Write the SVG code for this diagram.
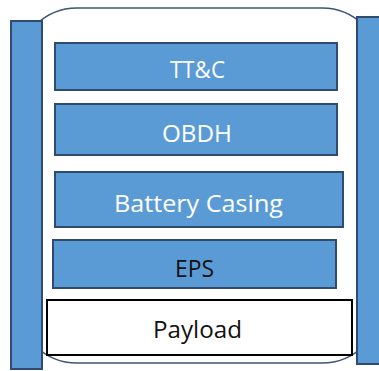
<svg xmlns="http://www.w3.org/2000/svg" width="379" height="371" viewBox="0 0 379 371">
<style>
.blk{fill:#5b9bd5;stroke:#2f4c6e;stroke-width:2}
.lbl{font-family:"Open Sans","Liberation Sans",sans-serif;font-size:23px;text-anchor:middle}
.w{fill:#ffffff}
.k{fill:#111111}
</style>
<rect width="379" height="371" fill="#ffffff"/>
<g id="casing">
<rect x="18" y="8" width="363" height="355" rx="59" ry="59" fill="#ffffff" stroke="#3b5574" stroke-width="1.5"/>
</g>
<g id="left-panel"><rect class="blk" x="11" y="21" width="31" height="348"/></g>
<g id="right-panel"><rect class="blk" x="357" y="17" width="26" height="347"/></g>
<g id="ttc"><rect class="blk" x="55" y="43" width="282" height="47"/><text class="lbl w" x="197.5" y="78" textLength="55" lengthAdjust="spacingAndGlyphs">TT&amp;C</text></g>
<g id="obdh"><rect class="blk" x="55" y="104" width="282" height="51"/><text class="lbl w" x="197" y="142" textLength="70" lengthAdjust="spacingAndGlyphs">OBDH</text></g>
<g id="battery"><rect class="blk" x="55" y="172" width="288" height="55"/><text class="lbl w" x="198.5" y="212" textLength="169" lengthAdjust="spacingAndGlyphs">Battery Casing</text></g>
<g id="eps"><rect class="blk" x="53" y="240" width="283" height="48"/><text class="lbl k" x="194.5" y="277" textLength="39" lengthAdjust="spacingAndGlyphs">EPS</text></g>
<g id="payload"><rect x="47" y="300" width="305" height="55" fill="#ffffff" stroke="#000000" stroke-width="2"/><text class="lbl k" x="197.5" y="338" textLength="89" lengthAdjust="spacingAndGlyphs">Payload</text></g>
<g id="connectors"></g>
</svg>
